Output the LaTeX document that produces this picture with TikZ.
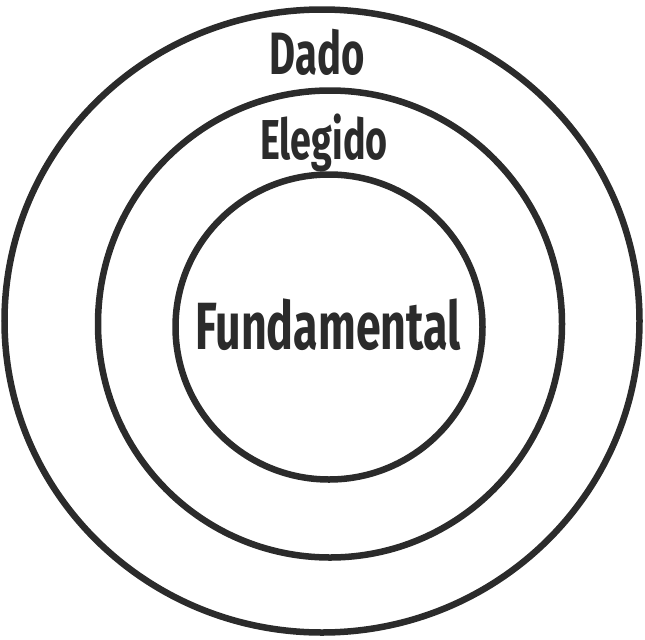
\documentclass[tikz,border=0pt]{standalone}
\usepackage{fontspec}
\newfontfamily\handfont[FakeStretch=0.67]{Fira Sans}
\definecolor{ink}{HTML}{2B2B2B}
\begin{document}
\begin{tikzpicture}[every node/.style={font=\handfont\bfseries,text=ink}]
\useasboundingbox (0,0) rectangle (12.9,-12.78);
\tikzset{ring/.style={draw=ink,line width=3.7pt}}
% rings
\draw[ring] (6.44,-6.42) ellipse [x radius=6.35,y radius=6.23];
\draw[ring] (6.60,-6.48) ellipse [x radius=4.64,y radius=4.67];
\draw[ring] (6.58,-6.54) ellipse [x radius=3.07,y radius=3.05];
% labels
\node[font=\handfont\bfseries\fontsize{34}{34}\selectfont] (dado) at (6.34,-1.04) {Dado};
\node[font=\handfont\bfseries\fontsize{32}{32}\selectfont] (elegido) at (6.48,-2.85) {Elegido};
\node[font=\handfont\bfseries\fontsize{38}{38}\selectfont] (fund) at (6.56,-6.50) {Fundamental};
\end{tikzpicture}
\end{document}
